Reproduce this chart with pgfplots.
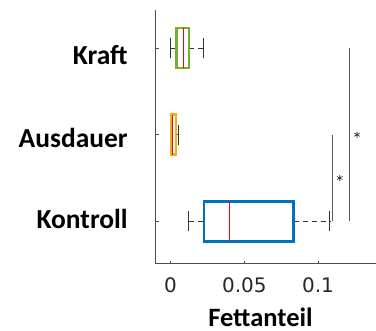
\documentclass[border=0pt]{standalone}
\usepackage{fontspec}
\setmainfont{Carlito}
\newfontfamily\dejavu{DejaVu Sans}
\usepackage{pgfplots}
\pgfplotsset{compat=1.18}
\usepgfplotslibrary{statistics}
\definecolor{mgreen}{rgb}{0.466,0.674,0.188}
\definecolor{morange}{rgb}{0.929,0.694,0.125}
\definecolor{mblue}{rgb}{0,0.447,0.741}
\definecolor{axgray}{rgb}{0.15,0.15,0.15}
\begin{document}
\begin{tikzpicture}
\path (0,0) rectangle (376pt,331pt);
\begin{axis}[
  at={(156pt,67pt)}, anchor=south west,
  scale only axis, width=219.9pt, height=254pt,
  xmin=-0.01, xmax=0.139, ymin=0.51, ymax=3.44,
  axis x line*=bottom, axis y line*=left,
  axis line style={draw=black!70, line width=0.9pt},
  tick style={draw=black!70, line width=0.6pt},
  major tick length=3pt, tick align=inside,
  xtick={0,0.05,0.1}, xticklabels={0,0.05,0.1},
  ytick={1,2,3},
  yticklabels={\raisebox{-7.3pt}{Kontroll},\raisebox{-13.3pt}{Ausdauer},\raisebox{-16pt}{Kraft}},
  xticklabel style={font=\dejavu\fontsize{20}{24}\selectfont, text=axgray, anchor=base, yshift=-28.7pt},
  yticklabel style={font=\bfseries\fontsize{27.5}{30}\selectfont, anchor=base east, inner sep=0pt, xshift=-28pt},
  xlabel={Fettanteil},
  xlabel style={at={(axis description cs:0.476,0)}, anchor=base, inner sep=0pt, yshift=-62.7pt, font=\bfseries\fontsize{26.5}{30}\selectfont},
  clip=false,
  boxplot/draw direction=x,
  boxplot/box extend=0.46,
  boxplot/whisker extend=0.23,
  boxplot/draw/lower whisker/.code={
    \draw[dashed, dash pattern=on 5pt off 4pt, black!80, line width=0.9pt] (boxplot cs:\pgfplotsboxplotvalue{lower whisker}) -- (boxplot cs:\pgfplotsboxplotvalue{lower quartile});
    \draw[black!80, line width=0.9pt] (boxplot whisker cs:\pgfplotsboxplotvalue{lower whisker},0) -- (boxplot whisker cs:\pgfplotsboxplotvalue{lower whisker},1);
  },
  boxplot/draw/upper whisker/.code={
    \draw[dashed, dash pattern=on 5pt off 4pt, black!80, line width=0.9pt] (boxplot cs:\pgfplotsboxplotvalue{upper quartile}) -- (boxplot cs:\pgfplotsboxplotvalue{upper whisker});
    \draw[black!80, line width=0.9pt] (boxplot whisker cs:\pgfplotsboxplotvalue{upper whisker},0) -- (boxplot whisker cs:\pgfplotsboxplotvalue{upper whisker},1);
  },
  boxplot/every median/.style={draw=red, line width=0.9pt},
]
% Kraft
\addplot[draw=mgreen, line width=2.6pt, boxplot prepared={draw position=3,
  lower whisker=0.0002, lower quartile=0.0041, median=0.0085,
  upper quartile=0.0126, upper whisker=0.0224}] coordinates {};
% Ausdauer
\addplot[draw=morange, line width=2.6pt, boxplot prepared={draw position=2,
  lower whisker=0.0002, lower quartile=0.0002, median=0.0013,
  upper quartile=0.0036, upper whisker=0.0052}] coordinates {};
% Kontroll
\addplot[draw=mblue, line width=2.6pt, boxplot prepared={draw position=1,
  lower whisker=0.0124, lower quartile=0.0226, median=0.0397,
  upper quartile=0.0835, upper whisker=0.108}] coordinates {};
% significance lines
\addplot[black!65, line width=0.9pt] coordinates {(0.1097,1) (0.1097,2)};
\addplot[black!65, line width=0.9pt] coordinates {(0.121,1) (0.121,3)};
\addplot[only marks, mark=asterisk, mark size=3.2pt, black!85, line width=0.6pt] coordinates {(0.1147,1.5) (0.1264,2)};
\end{axis}
\end{tikzpicture}
\end{document}
